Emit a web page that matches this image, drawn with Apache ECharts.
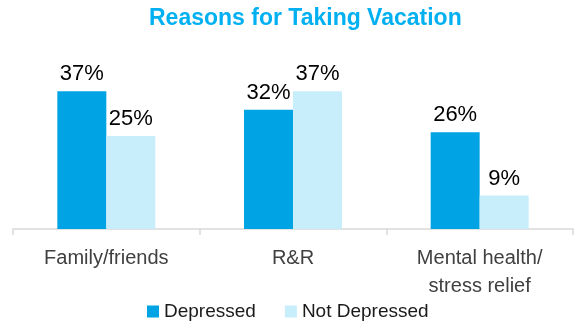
<!DOCTYPE html>
<html>
<head>
<meta charset="utf-8">
<script src="https://cdn.jsdelivr.net/npm/echarts@6/dist/echarts.min.js"></script>
<style>
    html, body { margin: 0; padding: 0; background: #fff; }
    #container { width: 579px; height: 330px; }
</style>
</head>
<body>
<div id="container"></div>
<script>
// chart data
const categories = ['Family/friends', 'R&R', 'Mental health/\nstress relief'];
const depressed = [37, 32, 26];
const notDepressed = [25, 37, 9];
const seriesNames = ['Depressed', 'Not Depressed'];

const FONT = '"Liberation Sans", Arial, sans-serif';

function main() {
    const myChart = echarts.init(document.getElementById('container'));

    const barLabel = {
        show: true,
        position: 'top',
        distance: 6,
        color: '#000',
        fontSize: 22,
        fontFamily: FONT,
        formatter: '{c}%'
    };

    const option = {
        backgroundColor: '#fff',
        animation: false,
        title: {
            text: 'Reasons for Taking Vacation',
            left: 144,
            top: 2,
            textStyle: {
                color: '#00b0f0',
                fontSize: 23,
                fontWeight: 'bold',
                fontFamily: FONT
            }
        },
        legend: {
            bottom: 4,
            left: 142,
            itemWidth: 12,
            itemHeight: 12,
            itemGap: 29,
            itemTextGap: 5,
            icon: 'rect',
            textStyle: {
                color: '#1a1a1a',
                fontSize: 19,
                fontFamily: FONT
            },
            data: seriesNames
        },
        grid: {
            left: 13,
            right: 6,
            top: 80,
            bottom: 101
        },
        xAxis: {
            type: 'category',
            data: categories,
            axisLine: { lineStyle: { color: '#d9d9d9', width: 1.5 } },
            axisTick: { show: true, length: 6, lineStyle: { color: '#d9d9d9', width: 1.5 } },
            axisLabel: {
                color: '#404040',
                fontSize: 20,
                lineHeight: 28,
                margin: 15,
                fontFamily: FONT
            }
        },
        yAxis: {
            type: 'value',
            min: 0,
            max: 40,
            show: false
        },
        series: [{
            name: seriesNames[0],
            type: 'bar',
            data: depressed,
            barWidth: 49,
            barGap: '0%',
            itemStyle: { color: '#00a4e4' },
            label: barLabel
        }, {
            name: seriesNames[1],
            type: 'bar',
            data: notDepressed,
            barWidth: 49,
            itemStyle: { color: '#c8eefc' },
            label: barLabel
        }]
    };

    myChart.setOption(option, true);
}

main();
</script>
</body>
</html>
